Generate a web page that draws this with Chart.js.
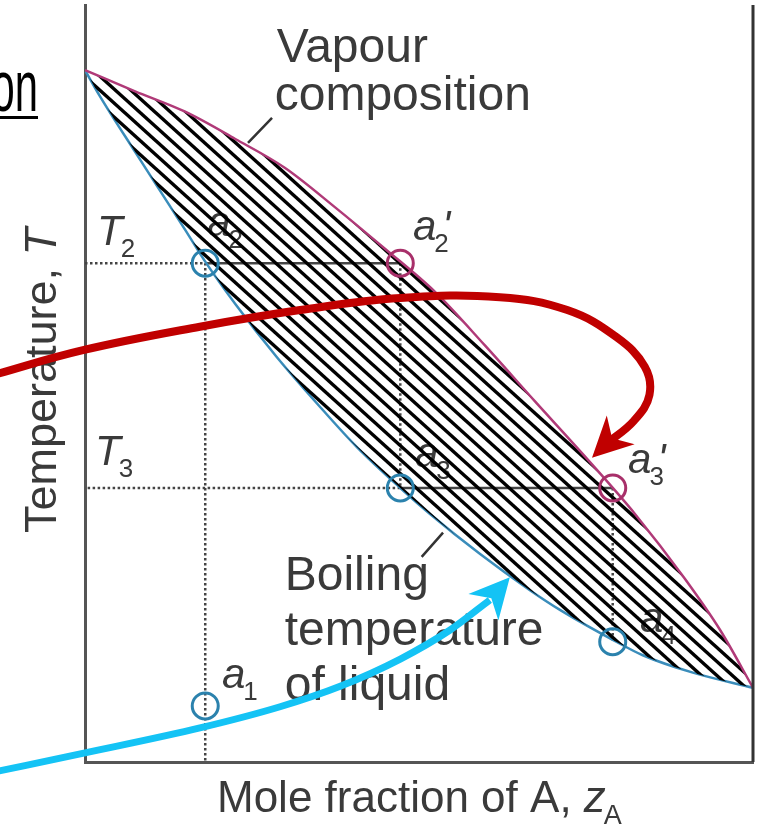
<!DOCTYPE html>
<html>
<head>
<meta charset="utf-8">
<script src="https://cdn.jsdelivr.net/npm/chart.js@4.4.1/dist/chart.umd.min.js"></script>
<style>
  html, body { margin: 0; padding: 0; background: #fff; }
  canvas { display: block; }
</style>
</head>
<body>
<canvas id="chart" width="760" height="829"></canvas>
<script>
// boiling-point diagram, x = mole fraction of A, y = temperature (axis fraction)
const vapourX = [0, 0.075, 0.150, 0.225, 0.299, 0.374, 0.449, 0.524, 0.599, 0.674, 0.749, 0.823, 0.898, 0.951, 1];
const vapourT = [0.914, 0.886, 0.859, 0.823, 0.785, 0.733, 0.678, 0.621, 0.550, 0.476, 0.403, 0.328, 0.242, 0.174, 0.098];
const liquidX = [0, 0.022, 0.075, 0.150, 0.180, 0.225, 0.287, 0.356, 0.407, 0.472, 0.516, 0.591, 0.666, 0.711, 0.793, 0.835, 0.910, 1];
const liquidT = [0.914, 0.880, 0.806, 0.703, 0.661, 0.605, 0.535, 0.465, 0.416, 0.362, 0.328, 0.275, 0.227, 0.201, 0.160, 0.141, 0.118, 0.098];

// temperatures T2, T3
const T2 = 0.659;
const T3 = 0.362;

// state points a1, a2, a3, a4 (liquid side) and a2', a3' (vapour side)
const liquidPointX = [0.180, 0.180, 0.472, 0.790];
const liquidPointT = [0.074, T2, T3, 0.159];
const vapourPointX = [0.472, 0.790];
const vapourPointT = [T2, T3];

// the two hand-drawn arrows
const redArrowX = [-0.142, -0.003, 0.172, 0.322, 0.472, 0.621, 0.722, 0.796, 0.838, 0.845, 0.822, 0.780];
const redArrowT = [0.510, 0.544, 0.575, 0.597, 0.613, 0.614, 0.597, 0.561, 0.522, 0.485, 0.451, 0.420];
const redArrowTip = [0.759, 0.402];
const blueArrowX = [-0.135, 0, 0.172, 0.292, 0.382, 0.472, 0.546, 0.606];
const blueArrowT = [-0.013, 0.012, 0.045, 0.073, 0.100, 0.136, 0.174, 0.214];
const blueArrowTip = [0.636, 0.244];

const pts = (xs, ys) => xs.map((v, i) => ({ x: v, y: ys[i] }));
const GAP = { x: 0, y: null };

// diagonal hatching between the curves
const hatch = (() => {
  const W = 31, H = 28, s = H / W, step = 14;
  const cv = document.createElement('canvas');
  cv.width = W; cv.height = H;
  const g = cv.getContext('2d');
  g.strokeStyle = '#000';
  g.lineWidth = 3.4;
  for (let c = -2 * H; c <= 2 * H; c += step) {
    g.beginPath();
    g.moveTo(-5, c - 5 * s);
    g.lineTo(W + 5, c + (W + 5) * s);
    g.stroke();
  }
  return g.createPattern(cv, 'repeat');
})();

const TEXT = '#3a3a3a';
const FONT = '"Liberation Sans", Arial, sans-serif';

const plainLabels = [
  { text: 'Vapour', x: 0.287, y: 0.925 },
  { text: 'composition', x: 0.284, y: 0.861 },
  { text: 'Boiling', x: 0.299, y: 0.227 },
  { text: 'temperature', x: 0.299, y: 0.155 },
  { text: 'of liquid', x: 0.299, y: 0.082 }
];
const mathLabels = [
  { main: 'T', sub: '2', x: 0.018, y: 0.683 },
  { main: 'T', sub: '3', x: 0.015, y: 0.392 },
  { main: 'a', sub: '1', x: 0.205, y: 0.098 },
  { main: 'a', sub: '2', x: 0.183, y: 0.695 },
  { main: 'a', sub: '2', prime: true, x: 0.491, y: 0.690 },
  { main: 'a', sub: '3', x: 0.494, y: 0.390 },
  { main: 'a', sub: '3', prime: true, x: 0.813, y: 0.382 },
  { main: 'a', sub: '4', x: 0.831, y: 0.172 }
];

function drawMath(ctx, px, py, main, sub, prime) {
  ctx.font = 'italic 42px ' + FONT;
  ctx.fillText(main, px, py);
  const w = ctx.measureText(main).width;
  if (prime) ctx.fillText("'", px + w + 6, py);
  ctx.font = '26px ' + FONT;
  ctx.fillText(sub, px + w - 2, py + 12);
}

const labelPlugin = {
  id: 'labels',
  beforeDatasetsDraw(chart) {
    const { ctx, chartArea: a, scales: { x, y } } = chart;
    ctx.save();
    ctx.fillStyle = TEXT;
    ctx.textBaseline = 'alphabetic';
    ctx.textAlign = 'left';
    ctx.font = '48px ' + FONT;
    plainLabels.forEach(l => ctx.fillText(l.text, x.getPixelForValue(l.x), y.getPixelForValue(l.y)));
    mathLabels.forEach(l => drawMath(ctx, x.getPixelForValue(l.x), y.getPixelForValue(l.y), l.main, l.sub, l.prime));

    // x axis title
    let px = a.left + 132, py = a.bottom + 50;
    ctx.font = '44px ' + FONT;
    const head = 'Mole fraction of A, ';
    ctx.fillText(head, px, py);
    px += ctx.measureText(head).width;
    ctx.font = 'italic 44px ' + FONT;
    ctx.fillText('z', px, py);
    px += ctx.measureText('z').width;
    ctx.font = '27px ' + FONT;
    ctx.fillText('A', px - 2, py + 12);

    // y axis title
    ctx.save();
    ctx.translate(a.left - 29, a.top + 528);
    ctx.rotate(-Math.PI / 2);
    ctx.font = '45px ' + FONT;
    const yt = 'Temperature, ';
    ctx.fillText(yt, 0, 0);
    const yw = ctx.measureText(yt).width;
    ctx.font = 'italic 45px ' + FONT;
    ctx.fillText('T', yw, 0);
    ctx.restore();

    // cut-off slide heading
    ctx.fillStyle = '#000';
    ctx.save();
    ctx.translate(38, 111);
    ctx.scale(0.58, 1);
    ctx.font = '72px ' + FONT;
    ctx.textAlign = 'right';
    ctx.fillText('on', 0, 0);
    ctx.restore();
    ctx.fillRect(0, 116, 38, 3);
    ctx.restore();
  },
  afterDatasetsDraw(chart) {
    const { ctx, chartArea: a, scales: { x, y } } = chart;
    // right frame line
    ctx.save();
    ctx.strokeStyle = '#333';
    ctx.lineWidth = 3;
    ctx.beginPath();
    ctx.moveTo(a.right, a.top);
    ctx.lineTo(a.right, a.bottom);
    ctx.stroke();
    ctx.restore();

    const heads = [
      { xs: redArrowX, ys: redArrowT, tip: redArrowTip, color: '#c00000' },
      { xs: blueArrowX, ys: blueArrowT, tip: blueArrowTip, color: '#14c3f5' }
    ];
    heads.forEach(h => {
      const n = h.xs.length - 1;
      const bx = x.getPixelForValue(h.xs[n]), by = y.getPixelForValue(h.ys[n]);
      const tx = x.getPixelForValue(h.tip[0]), ty = y.getPixelForValue(h.tip[1]);
      let dx = tx - bx, dy = ty - by;
      const len = Math.hypot(dx, dy);
      dx /= len; dy /= len;
      const L = 40, Wd = 20;
      const cx = tx - dx * L, cy = ty - dy * L;
      ctx.save();
      ctx.fillStyle = h.color;
      ctx.beginPath();
      ctx.moveTo(tx, ty);
      ctx.lineTo(cx - dy * Wd, cy + dx * Wd);
      ctx.lineTo(tx - dx * L * 0.7, ty - dy * L * 0.7);
      ctx.lineTo(cx + dy * Wd, cy - dx * Wd);
      ctx.closePath();
      ctx.fill();
      ctx.restore();
    });
  }
};

const tieLines = [
  { x: liquidPointX[1], y: T2 }, { x: vapourPointX[0], y: T2 }, GAP,
  { x: liquidPointX[2], y: T3 }, { x: vapourPointX[1], y: T3 }
];
const dottedLines = [
  { x: 0, y: T2 }, { x: liquidPointX[1], y: T2 }, { x: liquidPointX[0], y: 0 }, GAP,
  { x: vapourPointX[0], y: T2 }, { x: liquidPointX[2], y: T3 }, { x: 0, y: T3 }, GAP,
  { x: vapourPointX[1], y: T3 }, { x: liquidPointX[3], y: liquidPointT[3] }
];
const leaderLines = [
  { x: 0.244, y: 0.818 }, { x: 0.280, y: 0.851 }, GAP,
  { x: 0.536, y: 0.303 }, { x: 0.504, y: 0.271 }
];

const line = (data, extra) => Object.assign({
  data, pointRadius: 0, tension: 0, fill: false, spanGaps: false
}, extra);

Chart.defaults.font.family = FONT;

new Chart(document.getElementById('chart'), {
  type: 'line',
  data: {
    datasets: [
      line(pts(vapourX, vapourT), {
        borderColor: '#b03a78', borderWidth: 2.5, cubicInterpolationMode: 'monotone',
        fill: '+1', backgroundColor: hatch, order: 2
      }),
      line(pts(liquidX, liquidT), {
        borderColor: '#3a8dbb', borderWidth: 2.5, cubicInterpolationMode: 'monotone', order: 2
      }),
      line(tieLines, { borderColor: '#444', borderWidth: 2.5, order: 3 }),
      line(dottedLines, { borderColor: '#444', borderWidth: 2.5, borderDash: [2.5, 2.5], order: 4 }),
      line(leaderLines, { borderColor: '#333', borderWidth: 2.5, order: 4 }),
      line(pts(liquidPointX, liquidPointT), {
        showLine: false, pointRadius: 13, pointBorderWidth: 3,
        pointBorderColor: '#2b82ad', pointBackgroundColor: 'rgba(0,0,0,0)', order: 1
      }),
      line(pts(vapourPointX, vapourPointT), {
        showLine: false, pointRadius: 13, pointBorderWidth: 3,
        pointBorderColor: '#a8306a', pointBackgroundColor: 'rgba(0,0,0,0)', order: 1
      }),
      line(pts(redArrowX, redArrowT), { borderColor: '#c00000', borderWidth: 8, tension: 0.4, clip: false, order: 0 }),
      line(pts(blueArrowX, blueArrowT), { borderColor: '#14c3f5', borderWidth: 7, cubicInterpolationMode: 'monotone', clip: false, order: 0 })
    ]
  },
  options: {
    responsive: false,
    animation: false,
    devicePixelRatio: 1,
    layout: { autoPadding: false, padding: { left: 85, right: 7, top: 5, bottom: 67 } },
    plugins: { legend: { display: false }, tooltip: { enabled: false } },
    scales: {
      x: {
        type: 'linear', min: 0, max: 1,
        ticks: { display: false }, grid: { display: false, drawTicks: false },
        border: { display: true, color: '#555', width: 3 }
      },
      y: {
        type: 'linear', min: 0, max: 1,
        ticks: { display: false }, grid: { display: false, drawTicks: false },
        border: { display: true, color: '#555', width: 3 }
      }
    }
  },
  plugins: [labelPlugin]
});
</script>
</body>
</html>
